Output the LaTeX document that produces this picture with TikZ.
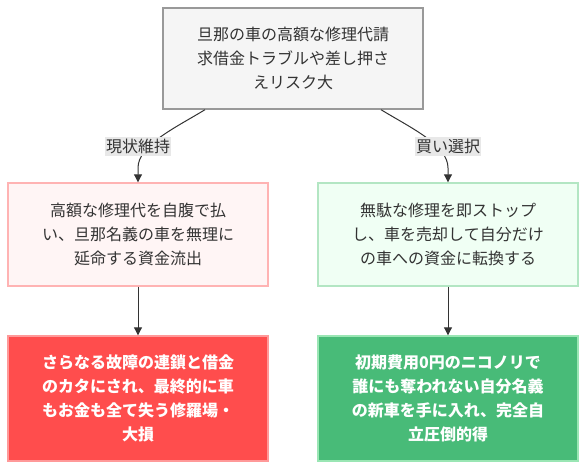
\documentclass[tikz,border=0pt]{standalone}
\usepackage{fontspec}
\setmainfont{Noto Sans CJK JP}
\usetikzlibrary{arrows.meta}
\definecolor{txt}{HTML}{333333}
\definecolor{topfill}{HTML}{F5F5F5}
\definecolor{topdraw}{HTML}{999999}
\definecolor{lmfill}{HTML}{FFF5F5}
\definecolor{lmdraw}{HTML}{FFB3B3}
\definecolor{rmfill}{HTML}{F0FFF4}
\definecolor{rmdraw}{HTML}{B3E6C3}
\definecolor{lbfill}{HTML}{FF4D4D}
\definecolor{lbdraw}{HTML}{FF9999}
\definecolor{rbfill}{HTML}{48BB78}
\definecolor{rbdraw}{HTML}{9AE6B4}
\definecolor{lblfill}{HTML}{E8E8E8}
\begin{document}
\begin{tikzpicture}[x=1pt,y=-1pt,
  box/.style={rectangle, line width=1.4pt, align=center, text=txt,
    font=\fontsize{16}{24}\selectfont, minimum width=260pt, inner sep=0pt},
  boldbox/.style={box, text=white, font=\fontsize{16}{24}\selectfont\bfseries},
  lbl/.style={fill=lblfill, text=txt, font=\fontsize{16}{20}\selectfont,
    inner xsep=1pt, inner ysep=2pt},
  arr/.style={draw=txt, line width=1pt, -{Triangle[length=8pt,width=8pt]}}]
\useasboundingbox (0,0) rectangle (586,470);
\fill[white] (0,0) rectangle (586,470);

\node[box, fill=topfill, draw=topdraw, minimum height=101pt] (top) at (293,58.5)
  {旦那の車の高額な修理代請\\求借金トラブルや差し押さ\\えリスク大};
\node[box, fill=lmfill, draw=lmdraw, minimum height=103pt] (lm) at (138,234.5)
  {高額な修理代を自腹で払\\い、旦那名義の車を無理に\\延命する資金流出};
\node[box, fill=rmfill, draw=rmdraw, minimum height=103pt] (rm) at (448,234.5)
  {無駄な修理を即ストップ\\し、車を売却して自分だけ\\の車への資金に転換する};
\node[boldbox, fill=lbfill, draw=lbdraw, minimum height=125pt] (lb) at (138,398.5)
  {さらなる故障の連鎖と借金\\のカタにされ、最終的に車\\もお金も全て失う修羅場・\\大損};
\node[boldbox, fill=rbfill, draw=rbdraw, minimum height=125pt] (rb) at (448,398.5)
  {初期費用0円のニコノリで\\誰にも奪われない自分名義\\の新車を手に入れ、完全自\\立圧倒的得};

\draw[arr] ([xshift=-88pt]top.south) .. controls (175,128) and (138,145) .. (138,168) -- (lm.north);
\draw[arr] ([xshift=88pt]top.south) .. controls (411,128) and (448,145) .. (448,168) -- (rm.north);
\draw[arr] (lm.south) -- (lb.north);
\draw[arr] (rm.south) -- (rb.north);

\node[lbl] (l1) at (138,146.5) {現状維持};
\node[lbl] (l2) at (448,146.5) {買い選択};
\end{tikzpicture}
\end{document}
